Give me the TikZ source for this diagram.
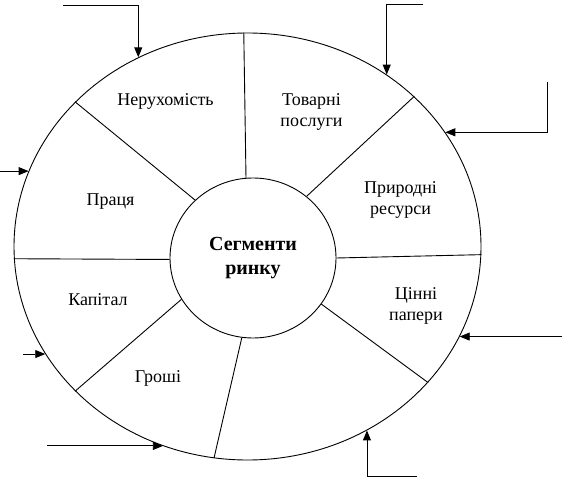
\documentclass[tikz,border=0pt]{standalone}
\usepackage{fontspec}
\setmainfont{Liberation Serif}
\usetikzlibrary{shapes.geometric,arrows.meta}

\begin{document}
\begin{tikzpicture}[
  x=1pt, y=-1pt,
  line width=0.9pt,
  >={Triangle[length=10pt, width=8pt]},
  ring/.style={draw, ellipse, inner sep=0pt},
  seg/.style={font=\fontsize{18}{21.5}\selectfont, align=center, inner sep=1pt},
  feed/.style={->}
]
\useasboundingbox (0,0) rectangle (564,478);

% outer ring and hub
\node[ring, minimum width=467pt, minimum height=427pt] (rim) at (247.5,246.5) {};
\node[ring, minimum width=166pt, minimum height=160pt, align=center,
  font=\fontsize{20}{24.5}\selectfont\bfseries] (hub) at (253,258) {Сегменти\\ринку};

% dividers between segments
\foreach \a/\b in {95.8/91.5, 49.4/42.4, 0.7/358.4, 326.1/323.5,
                   262.2/261, 210.6/220.1, 181.4/183.8, 135/140.6}
  \draw (hub.\a) -- (rim.\b);

% segment labels
\node[seg] (nerukh)  at (165.5,101) {Нерухомість};
\node[seg] (tovar)   at (311.5,112) {Товарні\\послуги};
\node[seg] (pryrod)  at (400.5,200) {Природні\\ресурси};
\node[seg] (tsinni)  at (416,306)   {Цінні\\папери};
\node[seg] (kapital) at (98,300)    {Капітал};
\node[seg] (groshi)  at (158,378)   {Гроші};
\node[seg] (pratsia) at (110.5,202) {Праця};

% incoming arrows
\coordinate (inA) at (63,5);
\coordinate (inB) at (423,4);
\coordinate (inC) at (547,82);
\coordinate (inD) at (0,173);
\coordinate (inE) at (23,354);
\coordinate (inF) at (47,447);
\coordinate (inG) at (417,476);
\coordinate (inH) at (562,332);
\draw[feed] (inA) -| (rim.120.4);
\draw[feed] (inB) -| (rim.51.8);
\draw[feed] (inC) |- (rim.30.8);
\draw[feed] (rim.161.5 -| inD) -- (rim.161.5);
\draw[feed] (rim.208.1 -| inE) -- (rim.208.1);
\draw[feed] (rim.247.4 -| inF) -- (rim.247.4);
\draw[feed] (inG) -| (rim.303.7);
\draw[feed] (rim.337.9 -| inH) -- (rim.337.9);

\end{tikzpicture}
\end{document}
